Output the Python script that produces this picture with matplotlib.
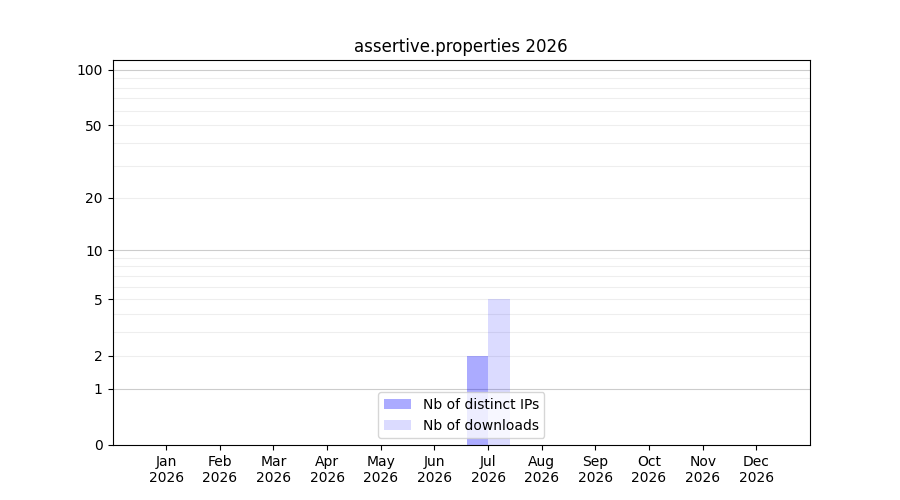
import numpy as np
import matplotlib
matplotlib.use("Agg")
import matplotlib.pyplot as plt

# monthly stats for 2026
month_labels = ["Jan\n2026", "Feb\n2026", "Mar\n2026", "Apr\n2026", "May\n2026",
                "Jun\n2026", "Jul\n2026", "Aug\n2026", "Sep\n2026", "Oct\n2026",
                "Nov\n2026", "Dec\n2026"]
distinct_ips = [0, 0, 0, 0, 0, 0, 2, 0, 0, 0, 0, 0]
downloads = [0, 0, 0, 0, 0, 0, 5, 0, 0, 0, 0, 0]
y_ticks = [0, 1, 2, 5, 10, 20, 50, 100]
major_grid = [1, 10, 100]
minor_grid = [2, 3, 4, 5, 6, 7, 8, 9, 20, 30, 40, 50, 60, 70, 80, 90]


def fwd(y):
    return np.log10(np.maximum(np.asarray(y, dtype=float), 0) + 1)


def inv(y):
    return 10 ** np.asarray(y, dtype=float) - 1


fig, ax = plt.subplots(figsize=(9, 5), dpi=100)
ax.set_yscale("function", functions=(fwd, inv))

x = np.arange(len(month_labels))
width = 0.4
ax.bar(x, distinct_ips, width=-width, align="edge", color="blue",
       alpha=0.33, label="Nb of distinct IPs")
ax.bar(x, downloads, width=width, align="edge", color="blue",
       alpha=0.14, label="Nb of downloads")

for y in minor_grid:
    ax.axhline(y, color="#eeeeee", lw=0.8, zorder=0)
for y in major_grid:
    ax.axhline(y, color="#cccccc", lw=0.8, zorder=0)

ax.set_ylim(0, 113)
ax.set_yticks(y_ticks)
ax.set_yticklabels([str(t) for t in y_ticks])
ax.yaxis.set_minor_locator(matplotlib.ticker.NullLocator())

ax.set_xlim(-1, 12)
ax.set_xticks(x)
ax.set_xticklabels(month_labels)

ax.set_title("assertive.properties 2026")
ax.legend(loc="lower center")

plt.savefig("out.png")
